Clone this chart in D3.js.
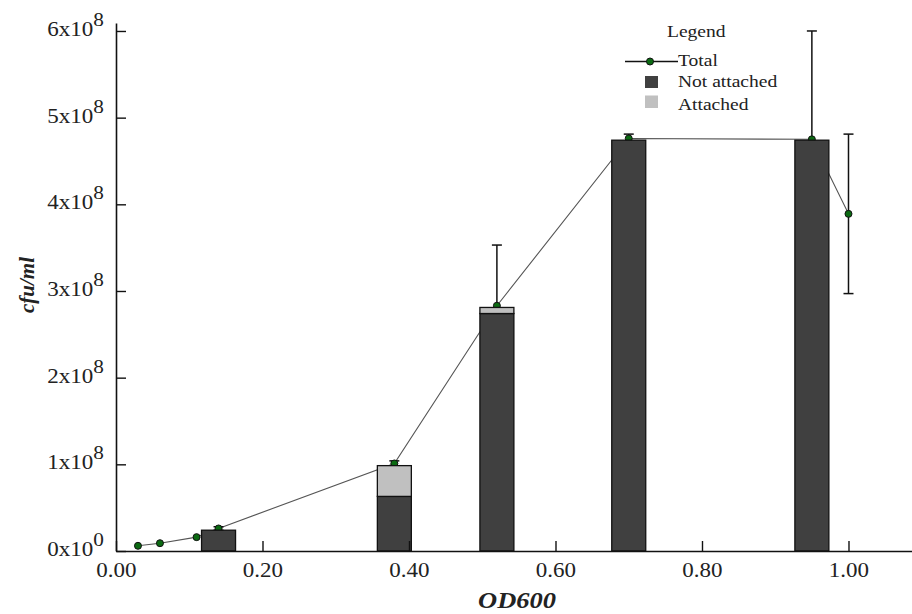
<!DOCTYPE html>
<html>
<head>
<meta charset="utf-8">
<script src="https://cdn.jsdelivr.net/npm/d3@7"></script>
<style>
  html, body { margin: 0; padding: 0; background: #fff; }
  svg { display: block; }
  text { font-family: "Liberation Serif", "Times New Roman", serif; fill: #222; }
</style>
</head>
<body>
<svg id="chart" width="912" height="614"></svg>
<script>
// ---- data ----
const totalOD = [0.03, 0.06, 0.11, 0.14, 0.38, 0.52, 0.70, 0.95, 1.00];
const totalCfu = [0.06e8, 0.09e8, 0.16e8, 0.26e8, 1.01e8, 2.83e8, 4.76e8, 4.75e8, 3.89e8];
const totalErr = [0, 0, 0, 0.02e8, 0.03e8, 0.70e8, 0.05e8, 1.25e8, 0.92e8];

const barOD = [0.14, 0.38, 0.52, 0.70, 0.95];
const notAttached = [0.24e8, 0.63e8, 2.74e8, 4.74e8, 4.74e8];
const attached = [0, 0.355e8, 0.07e8, 0, 0];

const xTicks = [0, 0.2, 0.4, 0.6, 0.8, 1.0];
const yTicks = [0, 1e8, 2e8, 3e8, 4e8, 5e8, 6e8];
const legendLabels = ["Total", "Not attached", "Attached"];

// ---- setup ----
const svg = d3.select("#chart");
const STRETCH = 1.15;
const x = d3.scaleLinear().domain([0, 1.0867]).range([116, 912]);
const y = d3.scaleLinear().domain([0, 6.092e8]).range([551, 23]);
const barHalf = 0.0232;

// ---- total line ----
const line = d3.line().x((d, i) => x(totalOD[i])).y(d => y(d));
svg.append("path")
  .datum(totalCfu)
  .attr("d", line)
  .attr("fill", "none")
  .attr("stroke", "#555")
  .attr("stroke-width", 1.1);

// ---- error bars ----
const err = svg.append("g").attr("stroke", "#111").attr("stroke-width", 1.5);
totalCfu.forEach((v, i) => {
  if (!totalErr[i]) return;
  const cx = x(totalOD[i]);
  err.append("line").attr("x1", cx).attr("x2", cx)
    .attr("y1", y(v - totalErr[i])).attr("y2", y(v + totalErr[i]));
  [v - totalErr[i], v + totalErr[i]].forEach(e => {
    err.append("line").attr("x1", cx - 5).attr("x2", cx + 5)
      .attr("y1", y(e)).attr("y2", y(e));
  });
});

// ---- points ----
svg.append("g").selectAll("circle")
  .data(totalCfu)
  .join("circle")
  .attr("cx", (d, i) => x(totalOD[i]))
  .attr("cy", d => y(d))
  .attr("r", 3.5)
  .attr("fill", "#0b6a12")
  .attr("stroke", "#111")
  .attr("stroke-width", 1);

// ---- bars ----
const bars = svg.append("g");
barOD.forEach((od, i) => {
  const x0 = x(od - barHalf), x1 = x(od + barHalf);
  bars.append("rect")
    .attr("x", x0).attr("width", x1 - x0)
    .attr("y", y(notAttached[i])).attr("height", y(0) - y(notAttached[i]))
    .attr("fill", "#404040").attr("stroke", "#111").attr("stroke-width", 1.3);
  if (attached[i] > 0) {
    const top = notAttached[i] + attached[i];
    bars.append("rect")
      .attr("x", x0).attr("width", x1 - x0)
      .attr("y", y(top)).attr("height", y(notAttached[i]) - y(top))
      .attr("fill", "#c0c0c0").attr("stroke", "#111").attr("stroke-width", 1.3);
  }
});

// ---- axes ----
const xAxis = d3.axisBottom(x).tickValues(xTicks).tickSizeInner(-10).tickSizeOuter(0).tickPadding(12)
  .tickFormat(d3.format(".2f"));
const xg = svg.append("g").attr("transform", `translate(0,${y(0)})`).call(xAxis);
xg.select(".domain").attr("stroke", "#111").attr("stroke-width", 1.6);
xg.selectAll(".tick line").attr("stroke", "#111").attr("stroke-width", 1.4);
xg.selectAll(".tick text")
  .attr("font-size", 20)
  .attr("font-family", "Liberation Serif, serif")
  .attr("fill", "#222")
  .attr("transform", `scale(${STRETCH},1)`);

const yAxis = d3.axisLeft(y).tickValues(yTicks).tickSizeInner(-10).tickSizeOuter(0).tickPadding(12);
const yg = svg.append("g").attr("transform", `translate(${x(0)},0)`).call(yAxis);
yg.select(".domain").attr("stroke", "#111").attr("stroke-width", 1.6);
yg.selectAll(".tick line").attr("stroke", "#111").attr("stroke-width", 1.4);
yg.selectAll(".tick text").each(function(d) {
  const t = d3.select(this);
  t.text(null);
  t.append("tspan").text(`${Math.round(d / 1e8)}x10`);
  t.append("tspan").attr("dy", -10).attr("font-size", 18.5).text(d === 0 ? "0" : "8");
})
  .attr("x", -10.5)
  .attr("dy", "0.22em")
  .attr("font-size", 20)
  .attr("font-family", "Liberation Serif, serif")
  .attr("fill", "#222")
  .attr("transform", `scale(${STRETCH},1)`);

// ---- axis titles ----
svg.append("text")
  .attr("transform", `translate(517,608) scale(${STRETCH},1)`)
  .attr("text-anchor", "middle")
  .attr("font-size", 23)
  .attr("font-weight", "bold")
  .attr("font-style", "italic")
  .text("OD600");

svg.append("text")
  .attr("transform", "translate(34,285) rotate(-90)")
  .attr("text-anchor", "middle")
  .attr("font-size", 21)
  .attr("font-weight", "bold")
  .attr("font-style", "italic")
  .text("cfu/ml");

// ---- legend ----
const lg = svg.append("g");
lg.append("text").attr("transform", `translate(667,37) scale(${STRETCH},1)`)
  .attr("font-size", 17).text("Legend");
lg.append("line").attr("x1", 625).attr("x2", 678).attr("y1", 61.5).attr("y2", 61.5)
  .attr("stroke", "#111").attr("stroke-width", 1.5);
lg.append("circle").attr("cx", 650).attr("cy", 61.5).attr("r", 3.5)
  .attr("fill", "#0b6a12").attr("stroke", "#111").attr("stroke-width", 1);
lg.append("rect").attr("x", 645).attr("y", 76).attr("width", 13).attr("height", 12).attr("fill", "#404040");
lg.append("rect").attr("x", 645).attr("y", 95.5).attr("width", 13).attr("height", 12.5).attr("fill", "#c0c0c0");
const lyBase = [66, 87, 110];
legendLabels.forEach((lab, i) => {
  lg.append("text").attr("transform", `translate(678,${lyBase[i]}) scale(${STRETCH},1)`)
    .attr("font-size", 17).text(lab);
});
</script>
</body>
</html>
